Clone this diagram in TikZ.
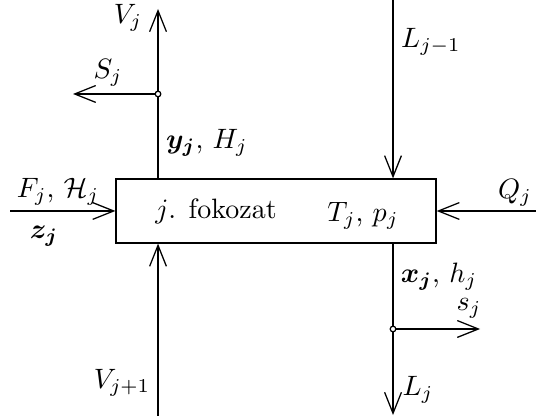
\documentclass[tikz,border=0pt]{standalone}
\usepackage{bm}
\usetikzlibrary{arrows.meta}
\begin{document}
\begin{tikzpicture}[x=0.357pt,y=-0.357pt, line width=0.45pt,
  flow/.style={-{Straight Barb[length=7.5pt,width=6pt]}},
  lbl/.style={inner sep=0pt},
  junction/.style={circle,draw,fill=white,inner sep=0pt,minimum size=2pt,line width=0.45pt}]
\useasboundingbox (0,0) rectangle (536,416);
% stage box
\node[draw, minimum width=114.24pt, minimum height=22.85pt, inner sep=0pt] (box) at (276,211) {};
% free ends
\coordinate (vtop) at (158,9);
\coordinate (stip) at (73,94);
\coordinate (ltop) at (393,0);
\coordinate (qin) at (536,211);
\coordinate (fin) at (10,211);
\coordinate (vbot) at (158,416);
\coordinate (lbot) at (393,415);
\coordinate (stip2) at (480,329);
% connectors
\draw[flow] (box.north -| vtop) -- (vtop);
\draw[flow] (ltop) -- (ltop |- box.north);
\draw[flow] (qin) -- (box.east);
\draw[flow] (fin) -- (box.west);
\draw[flow] (vbot) -- (vbot |- box.south);
\draw[flow] (box.south -| lbot) -- (lbot);
\node[junction] (js) at (158,94) {};
\node[junction] (jb) at (393,329) {};
\draw[flow] (js) -- (stip);
\draw[flow] (jb) -- (stip2);
% labels
\node[lbl] (lVj) at (128,18) {$V_j$};
\node[lbl] (lSj) at (108,73) {$S_j$};
\node[lbl] (lyH) at (207,143) {$\bm{y_j}$, $H_j$};
\node[lbl] (lL1) at (431,42) {$L_{j-1}$};
\node[lbl] (lFH) at (58,192) {$F_j$, $\mathcal{H}_j$};
\node[lbl] (lz) at (44,236) {$\bm{z_j}$};
\node[lbl] (lfok) at (216,211) {$j$. fokozat};
\node[lbl] (lTp) at (363,216) {$T_j$, $p_j$};
\node[lbl] (lQ) at (515,193) {$Q_j$};
\node[lbl] (lV1) at (122,383) {$V_{j+1}$};
\node[lbl] (lxh) at (439,277) {$\bm{x_j}$, $h_j$};
\node[lbl] (ls) at (469,308) {$s_j$};
\node[lbl] (lLj) at (418,390) {$L_j$};
\end{tikzpicture}
\end{document}
